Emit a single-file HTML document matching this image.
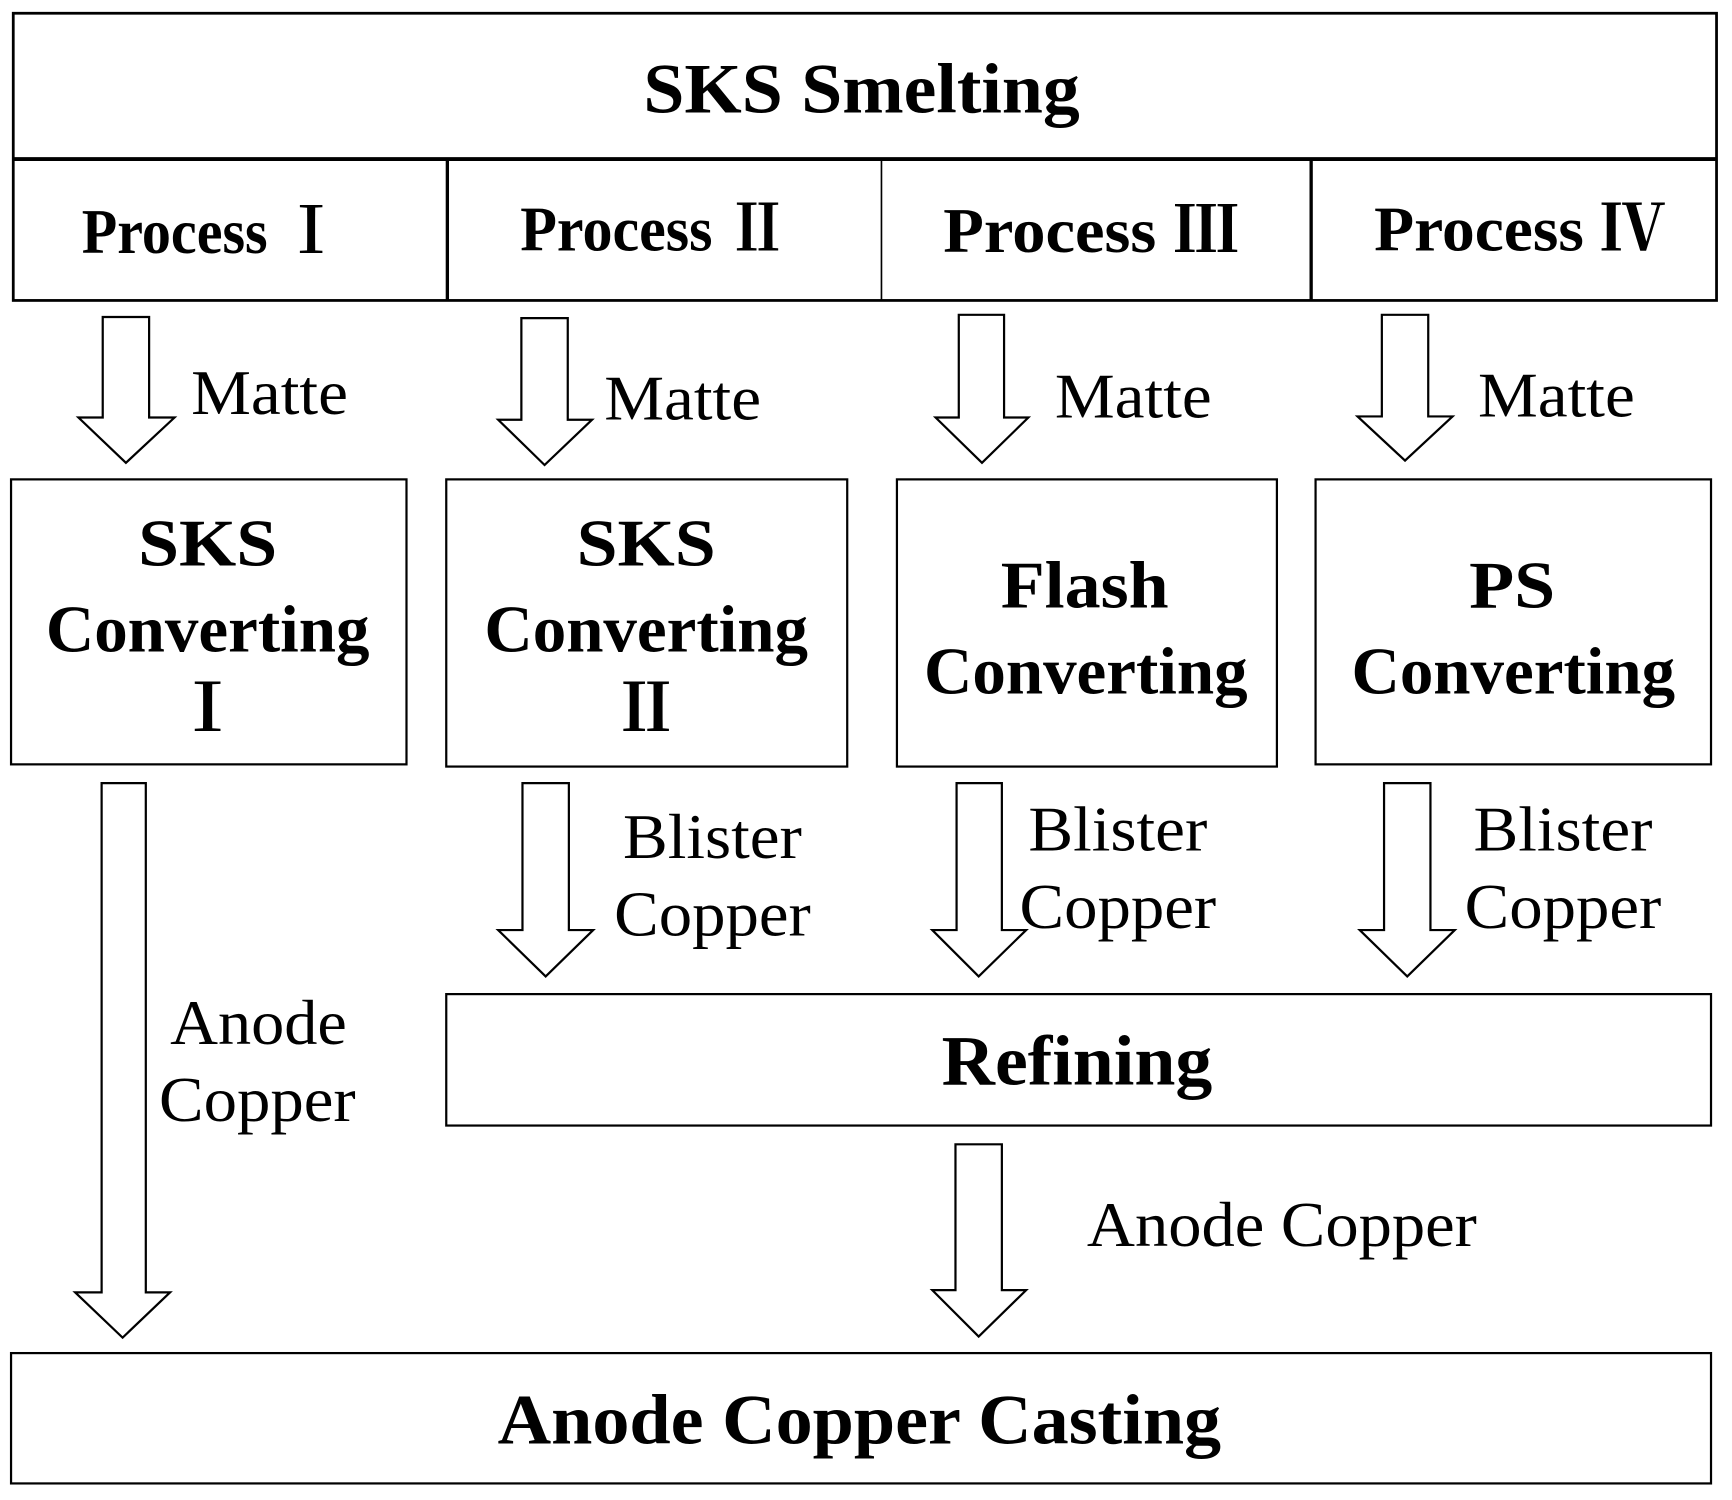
<!DOCTYPE html>
<html><head><meta charset="utf-8"><style>html,body{margin:0;padding:0;background:#fff}svg{display:block}</style></head>
<body>
<svg width="1732" height="1500" viewBox="0 0 1568 1358" preserveAspectRatio="none" xmlns="http://www.w3.org/2000/svg">
<g fill="none" stroke="#000" stroke-width="2.5">
<rect x="12" y="12" width="1542" height="260"/>
<line x1="12" y1="144" x2="1554" y2="144" stroke-width="3.5"/>
<line x1="405" y1="144" x2="405" y2="272" stroke-width="3"/>
<line x1="798" y1="144" x2="798" y2="272" stroke-width="1.5"/>
<line x1="1187" y1="144" x2="1187" y2="272" stroke-width="3"/>
<rect x="10" y="434" width="358" height="258" stroke-width="2"/>
<rect x="404" y="434" width="363" height="260" stroke-width="2"/>
<rect x="812" y="434" width="344" height="260" stroke-width="2"/>
<rect x="1191" y="434" width="358" height="258" stroke-width="2"/>
<rect x="404" y="900" width="1145" height="119" stroke-width="2"/>
<rect x="10" y="1225" width="1539" height="118" stroke-width="2"/>
</g>
<g fill="#fff" stroke="#000" stroke-width="2" stroke-linejoin="miter">
<polygon points="93,287 135,287 135,378 158,378 114,419 71,378 93,378"/>
<polygon points="472,288 514,288 514,380 536,380 493,421 451,380 472,380"/>
<polygon points="868,285 909,285 909,378 931,378 889,419 847,378 868,378"/>
<polygon points="1251,285 1293,285 1293,377 1315,377 1272,417 1229,377 1251,377"/>
<polygon points="92,709 132,709 132,1170 154,1170 111,1211 68,1170 92,1170"/>
<polygon points="473,709 515,709 515,842 537,842 494,884 451,842 473,842"/>
<polygon points="866,709 907,709 907,842 929,842 886,884 844,842 866,842"/>
<polygon points="1253,709 1295,709 1295,842 1317,842 1274,884 1231,842 1253,842"/>
<polygon points="865,1036 907,1036 907,1168 929,1168 886,1210 844,1168 865,1168"/>
</g>
<g font-family="'Liberation Serif','Noto Serif CJK SC',serif" fill="#000">
<g font-weight="bold" text-anchor="middle">
<text x="780" y="102" font-size="64" textLength="395" lengthAdjust="spacingAndGlyphs">SKS Smelting</text>
<text x="191" y="229" font-size="58" textLength="234" lengthAdjust="spacingAndGlyphs">Process Ⅰ</text>
<text x="592" y="227" font-size="58" textLength="242" lengthAdjust="spacingAndGlyphs">Process Ⅱ</text>
<text x="988" y="228" font-size="58" textLength="268" lengthAdjust="spacingAndGlyphs">Process Ⅲ</text>
<text x="1376" y="227" font-size="58" textLength="264" lengthAdjust="spacingAndGlyphs">Process Ⅳ</text>
<text x="188" y="512" font-size="60" textLength="126" lengthAdjust="spacingAndGlyphs">SKS</text>
<text x="188" y="590" font-size="60" textLength="293" lengthAdjust="spacingAndGlyphs">Converting</text>
<text x="188" y="662" font-size="60">Ⅰ</text>
<text x="585" y="512" font-size="60" textLength="126" lengthAdjust="spacingAndGlyphs">SKS</text>
<text x="585" y="590" font-size="60" textLength="293" lengthAdjust="spacingAndGlyphs">Converting</text>
<text x="585" y="662" font-size="60">Ⅱ</text>
<text x="982" y="550" font-size="60" textLength="152" lengthAdjust="spacingAndGlyphs">Flash</text>
<text x="983" y="628" font-size="60" textLength="293" lengthAdjust="spacingAndGlyphs">Converting</text>
<text x="1369" y="550" font-size="60" textLength="78" lengthAdjust="spacingAndGlyphs">PS</text>
<text x="1370" y="628" font-size="60" textLength="293" lengthAdjust="spacingAndGlyphs">Converting</text>
<text x="975" y="982" font-size="64" textLength="245" lengthAdjust="spacingAndGlyphs">Refining</text>
<text x="778" y="1307" font-size="64" textLength="655" lengthAdjust="spacingAndGlyphs">Anode Copper Casting</text>
</g>
<g font-size="58">
<text x="173" y="375" textLength="142" lengthAdjust="spacingAndGlyphs">Matte</text>
<text x="547" y="380" textLength="142" lengthAdjust="spacingAndGlyphs">Matte</text>
<text x="955" y="378" textLength="142" lengthAdjust="spacingAndGlyphs">Matte</text>
<text x="1338" y="377" textLength="142" lengthAdjust="spacingAndGlyphs">Matte</text>
<text x="984" y="1128" textLength="353" lengthAdjust="spacingAndGlyphs">Anode Copper</text>
</g>
<g font-size="58" text-anchor="middle">
<text x="645" y="777" textLength="162" lengthAdjust="spacingAndGlyphs">Blister</text>
<text x="645" y="847" textLength="178" lengthAdjust="spacingAndGlyphs">Copper</text>
<text x="1012" y="770" textLength="162" lengthAdjust="spacingAndGlyphs">Blister</text>
<text x="1012" y="840" textLength="178" lengthAdjust="spacingAndGlyphs">Copper</text>
<text x="1415" y="770" textLength="162" lengthAdjust="spacingAndGlyphs">Blister</text>
<text x="1415" y="840" textLength="178" lengthAdjust="spacingAndGlyphs">Copper</text>
<text x="234" y="945" textLength="160" lengthAdjust="spacingAndGlyphs">Anode</text>
<text x="233" y="1015" textLength="178" lengthAdjust="spacingAndGlyphs">Copper</text>
</g>
</g>
</svg>
</body></html>
